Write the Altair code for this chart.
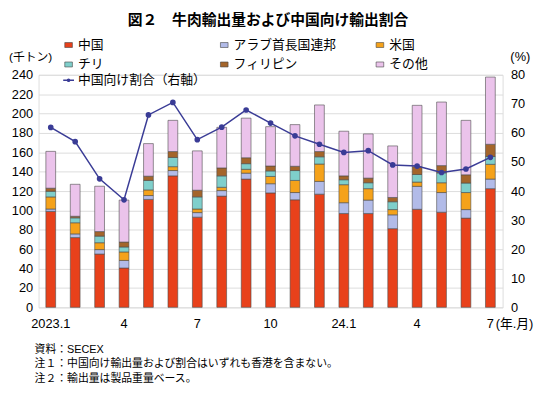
import json
import altair as alt
import pandas as pd

FONT = "Liberation Sans, Noto Sans CJK JP"

months = ["2023.1", "2023.2", "2023.3", "2023.4", "2023.5", "2023.6", "2023.7",
          "2023.8", "2023.9", "2023.10", "2023.11", "2023.12", "2024.1", "2024.2",
          "2024.3", "2024.4", "2024.5", "2024.6", "2024.7"]
tick_labels = ["2023.1", "", "", "4", "", "", "7", "", "", "10", "", "",
               "24.1", "", "", "4", "", "", "7"]
countries = ["中国", "アラブ首長国連邦", "米国", "チリ", "フィリピン", "その他"]
colors = ["#e8411b", "#b2bbe8", "#f5a21a", "#7fcfcb", "#a4652b", "#ebc3eb"]

china = [99.0, 72.0, 55.0, 40.6, 111.4, 135.7, 93.1, 114.8, 132.4, 118.1, 111.0, 116.8,
         96.8, 96.8, 81.2, 101.2, 98.2, 92.1, 122.5]
uae = [2.5, 3.8, 4.6, 7.8, 4.0, 5.5, 4.7, 5.7, 6.1, 9.5, 7.5, 13.2,
       11.2, 13.9, 14.3, 23.7, 20.3, 8.8, 9.9]
usa = [12.5, 11.5, 7.1, 8.8, 5.8, 4.0, 3.7, 3.4, 4.0, 7.5, 12.5, 17.9,
       18.6, 11.8, 5.4, 4.4, 10.1, 17.6, 15.2]
chile = [5.8, 5.1, 6.8, 5.1, 9.8, 9.5, 12.5, 11.8, 5.8, 5.7, 10.2, 7.5,
         5.1, 6.1, 8.1, 7.8, 10.2, 9.8, 8.1]
philippines = [3.2, 1.6, 4.7, 5.1, 4.4, 6.1, 6.9, 8.2, 6.1, 5.1, 4.4, 5.4,
               4.0, 4.8, 4.4, 8.1, 7.5, 8.5, 12.6]
others = [38.0, 33.0, 46.8, 43.3, 33.6, 32.2, 40.6, 41.9, 40.9, 40.6, 43.0, 48.1,
          46.1, 45.6, 53.2, 63.3, 65.6, 56.2, 69.4]
china_share = [61.9, 57.0, 44.2, 37.0, 66.2, 70.5, 57.7, 62.0, 67.9, 63.4, 59.0, 56.1,
               53.3, 53.9, 49.0, 48.6, 46.4, 47.6, 51.6]

series = [china, uae, usa, chile, philippines, others]
rows = []
for i, m in enumerate(months):
    for j, c in enumerate(countries):
        rows.append({"idx": i, "month": m, "country": c, "ord": j, "value": series[j][i]})
df = pd.DataFrame(rows)
df_share = pd.DataFrame({"idx": list(range(len(months))), "share": china_share,
                         "series": ["中国向け割合（右軸）"] * len(months)})

label_expr = json.dumps(tick_labels, ensure_ascii=False) + "[datum.value]"
label_positions = [i for i, t in enumerate(tick_labels) if t]

bars = alt.Chart(df).mark_bar(stroke="#4a4a4a", strokeWidth=0.6).encode(
    x=alt.X("idx:O", scale=alt.Scale(paddingInner=0.6, paddingOuter=0.3),
            axis=alt.Axis(title=None, values=label_positions, labelExpr=label_expr,
                          labelAngle=0, ticks=False, domain=False, labelFontSize=13,
                          labelPadding=10, labelColor="#000", labelFont=FONT)),
    y=alt.Y("value:Q", stack="zero", scale=alt.Scale(domain=[0, 240], nice=False),
            axis=alt.Axis(title=None, values=list(range(0, 241, 20)), ticks=False,
                          domain=False, labelFontSize=13, labelPadding=6,
                          labelColor="#000", labelFont=FONT, gridColor="#dcdcdc",
                          gridWidth=1)),
    color=alt.Color("country:N", sort=countries,
                    scale=alt.Scale(domain=countries, range=colors),
                    legend=alt.Legend(title=None, orient="none", legendX=24, legendY=-37,
                                      columns=3, direction="horizontal", gridAlign="all",
                                      columnPadding=37, rowPadding=6,
                                      symbolType="M-1,-0.65H1V0.65H-1Z", symbolSize=60,
                                      symbolStrokeColor="#444", symbolStrokeWidth=0.6,
                                      labelFontSize=13, labelFont=FONT, labelColor="#000",
                                      labelOffset=3, padding=0)),
    order=alt.Order("ord:Q", sort="ascending"),
)

line = alt.Chart(df_share).mark_line(
    strokeWidth=1.5,
    point=alt.OverlayMarkDef(filled=True, size=14, color="#3a3c96"),
).encode(
    x=alt.X("idx:O"),
    y=alt.Y("share:Q", scale=alt.Scale(domain=[0, 80], nice=False),
            axis=alt.Axis(orient="right", title=None, values=list(range(0, 81, 10)),
                          grid=False, ticks=False, domain=False, labelFontSize=13,
                          labelPadding=8, labelColor="#000", labelFont=FONT)),
    stroke=alt.Stroke("series:N",
                      scale=alt.Scale(domain=["中国向け割合（右軸）"], range=["#3a3c96"]),
                      legend=alt.Legend(title=None, orient="none", legendX=24, legendY=-1,
                                        symbolType="M-1,0H1M-0.22,0A0.22,0.22 0 1,0 0.22,0A0.22,0.22 0 1,0 -0.22,0",
                                        symbolSize=120, symbolStrokeWidth=1.3,
                                        symbolFillColor="#3a3c96",
                                        labelFontSize=13, labelFont=FONT, labelColor="#000",
                                        labelOffset=3, padding=0)),
)


def note(text, x, y, size=11, align="left", weight="normal"):
    return alt.Chart(pd.DataFrame({"t": [text]})).mark_text(
        align=align, baseline="middle", fontSize=size, fontWeight=weight,
        font=FONT, color="#000"
    ).encode(x=alt.value(x), y=alt.value(y), text="t:N")


notes = [
    note("図２　牛肉輸出量および中国向け輸出割合", 233, -56, size=15, align="center", weight="bold"),
    note("(千トン)", -30, -18, size=12, align="left"),
    note("(%)", 489, -18, size=13, align="center"),
    note("(年.月)", 464, 253, size=13, align="left"),
    note("資料：SECEX", -4, 279, size=11),
    note("注１：中国向け輸出量および割合はいずれも香港を含まない。", -4, 294, size=11),
    note("注２：輸出量は製品重量ベース。", -4, 309, size=11),
]

chart = alt.layer(bars, line, *notes).resolve_scale(
    y="independent", color="independent", stroke="independent"
).properties(
    width=471, height=236,
    autosize=alt.AutoSizeParams(type="none"),
    padding={"left": 31, "top": 65, "right": 40, "bottom": 76},
).configure_view(stroke=None).configure(background="white")

chart.save("out.html", embed_options={"renderer": "svg", "actions": False})
